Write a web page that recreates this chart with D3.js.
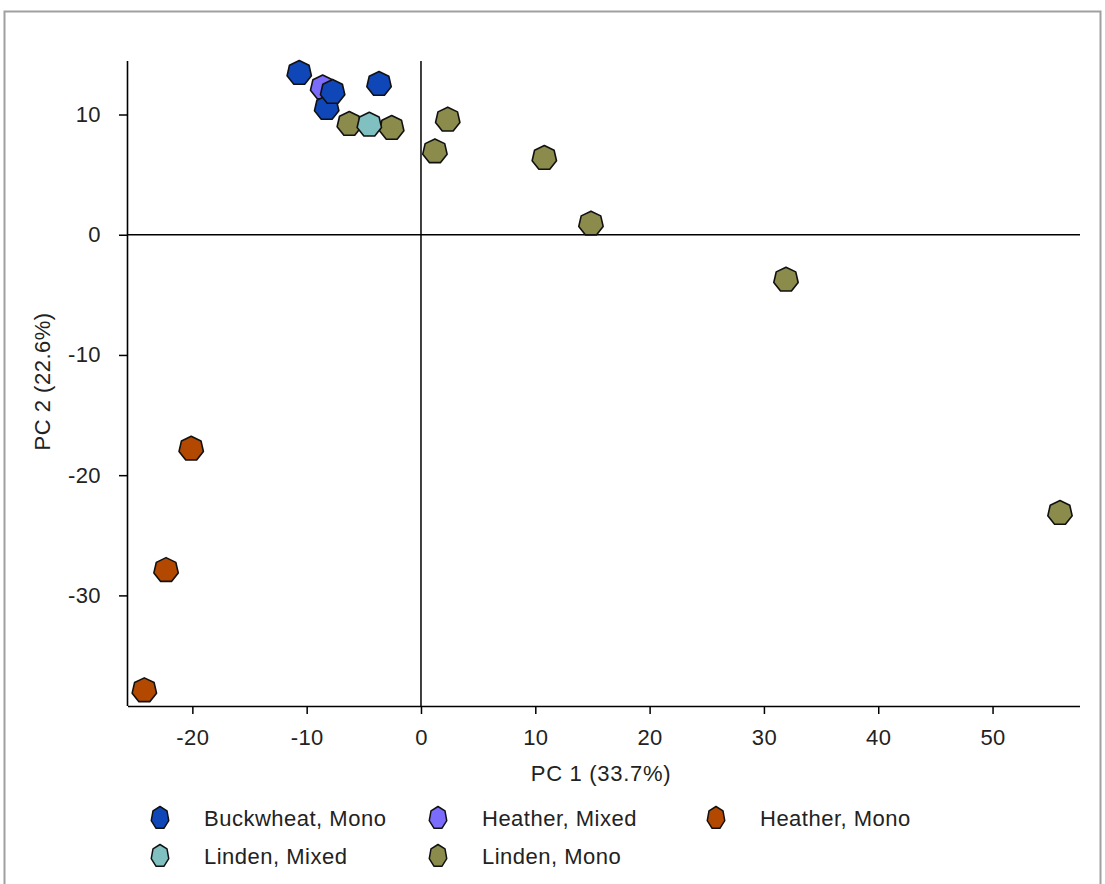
<!DOCTYPE html>
<html>
<head>
<meta charset="utf-8">
<script src="https://cdn.jsdelivr.net/npm/d3@7"></script>
<style>
  html, body { margin: 0; padding: 0; background: #fff; }
  svg { display: block; }
  text { font-family: "Liberation Sans", Arial, sans-serif; fill: #222; }
</style>
</head>
<body>
<svg id="chart" width="1105" height="884"></svg>
<script>
// PCA scores, grouped by honey type
const groups = ["Buckwheat, Mono", "Heather, Mixed", "Heather, Mono", "Linden, Mixed", "Linden, Mono"];
const groupColors = ["#1047b8", "#7b6cfc", "#b34800", "#80c0c0", "#8b8b4b"];

const buckwheatMono = [[-10.65, 13.45], [-3.67, 12.54], [-8.25, 10.54], [-7.73, 11.87]];
const heatherMixed  = [[-8.6, 12.25]];
const heatherMono   = [[-20.1, -17.8], [-22.3, -27.9], [-24.2, -37.9]];
const lindenMixed   = [[-4.52, 9.15]];
const lindenMono    = [[-6.27, 9.21], [-2.56, 8.88], [2.34, 9.57], [1.22, 6.93],
                       [10.79, 6.38], [14.87, 0.92], [31.93, -3.74], [55.9, -23.15]];

// drawing order: later series sit on top
const series = [
  { name: "Heather, Mono",   pts: heatherMono },
  { name: "Linden, Mono",    pts: lindenMono },
  { name: "Linden, Mixed",   pts: lindenMixed },
  { name: "Heather, Mixed",  pts: heatherMixed },
  { name: "Buckwheat, Mono", pts: buckwheatMono }
];

const xMajor = [-20, -10, 0, 10, 20, 30, 40, 50];
const yMajor = [-30, -20, -10, 0, 10];

const xTitle = "PC 1 (33.7%)";
const yTitle = "PC 2 (22.6%)";

const svg = d3.select("#chart");
const plot = { left: 128, right: 1080, top: 61, bottom: 706 };

const x = d3.scaleLinear().domain([-25.63, 57.65]).range([plot.left, plot.right]);
const y = d3.scaleLinear().domain([-39.2, 14.45]).range([plot.bottom, plot.top]);
const color = d3.scaleOrdinal().domain(groups).range(groupColors);

// plain hyphen for negative tick labels
const fmt = v => String(v);

// outer panel frame
svg.append("path")
  .attr("d", "M4.5,884 V11.5 H1100.5 V884")
  .attr("fill", "none").attr("stroke", "#a0a0a0").attr("stroke-width", 2);

const xMinor = d3.range(-24, 58, 2).filter(v => v % 10 !== 0);
const yMinor = d3.range(-38, 15, 2).filter(v => v % 10 !== 0);

// x axis
const gx = svg.append("g").attr("transform", `translate(0,${plot.bottom})`);
gx.call(d3.axisBottom(x).tickValues(xMinor).tickSize(5).tickFormat(""));
gx.call(d3.axisBottom(x).tickValues(xMajor).tickSize(8).tickPadding(15).tickFormat(fmt));
gx.selectAll(".domain").attr("d", `M${plot.left},0.5H${plot.right}`);

// y axis
const gy = svg.append("g").attr("transform", `translate(${plot.left},0)`);
gy.call(d3.axisLeft(y).tickValues(yMinor).tickSize(6).tickFormat(""));
gy.call(d3.axisLeft(y).tickValues(yMajor).tickSize(9).tickPadding(18).tickFormat(fmt));
gy.selectAll(".domain").attr("d", `M-0.5,${plot.top}V${plot.bottom}`);

svg.selectAll(".tick line").attr("stroke", "#000").attr("stroke-width", 1.5);
svg.selectAll(".domain").attr("stroke", "#000").attr("stroke-width", 1.6);
svg.selectAll(".tick text")
  .attr("font-size", 22).attr("font-family", "Liberation Sans, Arial, sans-serif")
  .attr("letter-spacing", 0.4)
  .attr("fill", "#222");

// zero reference lines
svg.append("line")
  .attr("x1", x(0)).attr("x2", x(0)).attr("y1", plot.top).attr("y2", plot.bottom)
  .attr("stroke", "#000").attr("stroke-width", 1.5);
svg.append("line")
  .attr("x1", plot.left).attr("x2", plot.right).attr("y1", y(0)).attr("y2", y(0))
  .attr("stroke", "#000").attr("stroke-width", 1.5);

// axis titles
svg.append("text")
  .attr("x", (plot.left + plot.right) / 2 - 3).attr("y", 781)
  .attr("text-anchor", "middle").attr("font-size", 22).attr("letter-spacing", 0.7)
  .text(xTitle);
svg.append("text")
  .attr("transform", `translate(50,${y(-12.2)}) rotate(-90)`)
  .attr("text-anchor", "middle").attr("font-size", 22).attr("letter-spacing", 0.5)
  .text(yTitle);

// heptagon marker
function heptagon(r, sx = 1) {
  const pts = d3.range(7).map(i => {
    const a = -Math.PI / 2 + i * 2 * Math.PI / 7;
    return [r * Math.cos(a) * sx, r * Math.sin(a)];
  });
  return "M" + pts.map(p => p.join(",")).join("L") + "Z";
}

const marks = svg.append("g");
series.forEach(s => {
  marks.selectAll(null).data(s.pts).enter().append("path")
    .attr("d", heptagon(12.5))
    .attr("transform", d => `translate(${x(d[0])},${y(d[1])})`)
    .attr("fill", color(s.name))
    .attr("stroke", "#111").attr("stroke-width", 1.6)
    .attr("stroke-linejoin", "round");
});

// legend
const legendPos = [[160, 818], [438, 818], [716, 818], [160, 856], [438, 856]];
const legend = svg.append("g");
groups.forEach((g, i) => {
  const [lx, ly] = legendPos[i];
  legend.append("path")
    .attr("d", heptagon(11.5, 0.78))
    .attr("transform", `translate(${lx},${ly})`)
    .attr("fill", color(g)).attr("stroke", "#111").attr("stroke-width", 1.5)
    .attr("stroke-linejoin", "round");
  legend.append("text")
    .attr("x", lx + 44).attr("y", ly + 8)
    .attr("font-size", 22).attr("letter-spacing", 0.5).text(g);
});
</script>
</body>
</html>
